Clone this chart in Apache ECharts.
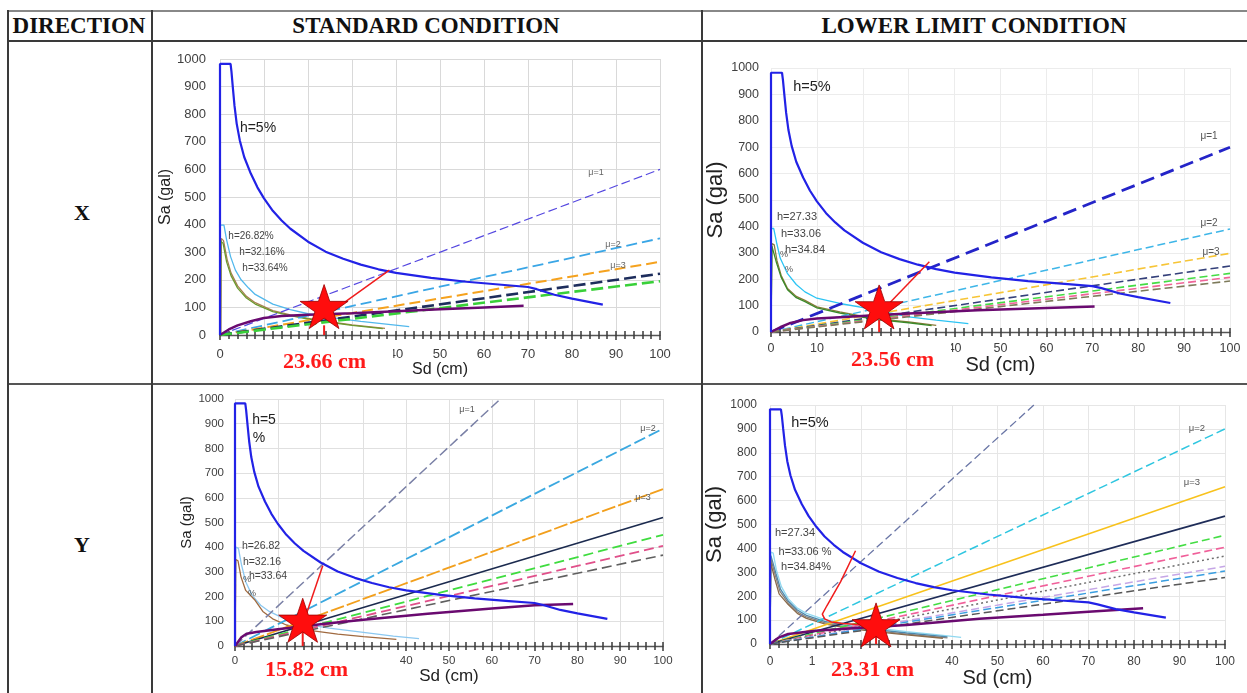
<!DOCTYPE html>
<html>
<head>
<meta charset="utf-8">
<title>Capacity spectrum method - X / Y direction</title>
<script src="https://cdn.jsdelivr.net/npm/echarts@6/dist/echarts.min.js"></script>
<style>
  html, body { margin: 0; padding: 0; background: #fff; }
  body { width: 1247px; height: 693px; position: relative; overflow: hidden; font-family: 'Liberation Serif', serif; }
  .hl, .vl { position: absolute; background: #3a3a3a; }
  .hl { left: 7px; right: 0; height: 2px; }
  .vl { top: 10px; bottom: 0; width: 2px; }
  .head, .dir { position: absolute; font-weight: bold; color: #111; white-space: nowrap; transform: translate(-50%, -50%); }
  .head { font-size: 23px; top: 26px; }
  .dir { font-size: 22px; }
  #chart { position: absolute; left: 0; top: 0; width: 1247px; height: 693px; }
</style>
</head>
<body>
<!-- table frame -->
<div class="hl" style="top:10px;background:#888"></div>
<div class="hl" style="top:40px"></div>
<div class="hl" style="top:383px;background:#555"></div>
<div class="vl" style="left:7px"></div>
<div class="vl" style="left:151px"></div>
<div class="vl" style="left:701px"></div>
<div class="head" style="left:79px">DIRECTION</div>
<div class="head" style="left:426px">STANDARD CONDITION</div>
<div class="head" style="left:974px">LOWER LIMIT CONDITION</div>
<div class="dir" style="left:82px;top:213px">X</div>
<div class="dir" style="left:82px;top:545px">Y</div>
<div id="chart"></div>
<script>
// ---- data: [Sd (cm), Sa (gal)] ----
// h=5% demand spectrum, same in all panels
const demand5 = [[0,0],[0,982],[2.4,982],[2.6,955],[2.9,900],[3.3,830],[3.8,765],[4.5,705],[5.5,645],[7,585],[8.5,535],[10,495],[12,450],[14,415],[16,385],[20,338],[24,302],[28,276],[32,255],[36,238],[40,225],[48,207],[56,193],[64,182],[70,174],[72,166],[76,146],[80,132],[87,110]];

// standard condition, X
const stdXh2682 = [[0,0],[0,398],[0.9,398],[1.5,345],[2.4,284],[3.5,235],[4.8,200],[6.5,170],[8,147],[12,112],[16,92],[20,77],[24,66],[32,49],[43,30]];
const stdXh3216 = [[0.2,0],[0.3,350],[0.8,342],[1.6,275],[2.5,225],[4,178],[6,140],[8,117],[12,88],[16,73],[20,60],[24,50],[30,37],[37.5,24]];
const stdXh3364 = [[0.1,0],[0.2,340],[0.7,332],[1.5,265],[2.5,215],[4,170],[6,134],[8,112],[12,85],[16,70],[20,58],[24,48],[30,35],[37,23]];
const stdXStub = [[0,0],[0,215]];
const stdXCapacity = [[0,0],[2,20],[4,35],[7,50],[10,62],[14,69],[20,73],[30,79],[40,86],[50,93],[60,100],[69,106]];
const stdXMu = [[100,600],[100,350],[100,265],[100,222],[100,195]];
const stdXRed = [[26,92],[38.5,235]];
const stdXTick = [[23.66,0],[23.66,35]];
const stdXPoint = [23.66,103];

// lower limit condition, X
const lowXh2733 = [[0,0],[0,392],[0.6,392],[1.2,340],[2,280],[3.6,221],[5.5,180],[7.4,152],[10,128],[15,108],[22.6,85],[30,57],[36,45],[43,32]];
const lowXh3306 = [[0,0],[0.2,335],[0.7,330],[1.3,270],[2.2,215],[3.6,165],[5.5,135],[7.4,120],[10,95],[15,76],[22.6,51],[30,38],[36,25]];
const lowXh3484 = [[0,0],[0.1,150],[0.2,325],[0.6,320],[1.2,262],[2.2,208],[3.6,160],[5.5,130],[7.4,115],[10,91],[15,72],[22.6,48],[30,35],[35,24]];
const lowXCapacity = [[0,0],[2,18],[4,33],[7,45],[10,51],[15,56],[22.6,63],[30,70],[45,82],[60,91],[70.5,97]];
const lowXMu = [[100,700],[100,390],[100,298],[100,250],[100,222],[100,207],[100,193]];
const lowXRed = [[25,95],[34.5,266]];
const lowXTick = [[23.56,0],[23.56,45]];
const lowXPoint = [23.56,95];

// standard condition, Y
const stdYh2682 = [[0,0],[0.2,400],[0.8,395],[1.5,330],[2.5,260],[4,205],[6,165],[8,140],[11,115],[16,90],[22,72],[30,55],[37,40],[43,30]];
const stdYh3216 = [[0,0],[0.2,350],[0.7,345],[1.4,280],[2.5,225],[4.7,185],[6.5,140],[8.8,110],[12,85],[17,64],[24,48],[30,38],[37.7,27]];
const stdYStub = [[0.1,0],[0.1,250]];
const stdYCapacity = [[0,0],[1.5,35],[2.7,50],[5,57],[10,68],[15,78],[21,90],[30,106],[45,131],[60,152],[70,165],[79,170]];
const stdYMu = [[62,1000],[100,880],[100,635],[100,520],[100,450],[100,405],[100,368]];
const stdYRed = [[16.2,105],[20.5,325]];
const stdYTick = [[15.82,0],[15.82,110]];
const stdYPoint = [15.82,104];

// lower limit condition, Y
const lowYh2734 = [[0,0],[0.2,385],[0.7,380],[1.4,310],[2.5,240],[4,190],[6,150],[8,128],[12,102],[16,87],[22,70],[30,52],[36,40],[42,28]];
const lowYh3306 = [[0,0],[0.2,370],[0.6,365],[1.3,295],[2.3,230],[4,180],[6,142],[8,120],[12,95],[16,80],[22,63],[30,46],[39,30]];
const lowYh3484 = [[0,0],[0.2,355],[0.6,350],[1.2,285],[2.2,220],[4,172],[6,135],[8,113],[12,89],[16,74],[22,58],[30,41],[39,26]];
const lowYh36 = [[0,0],[0.15,340],[0.5,335],[1.1,270],[2,210],[4,165],[6,128],[8,107],[12,84],[16,70],[22,54],[30,38],[38,24]];
const lowYStub = [[0,0],[0,165]];
const lowYCapacity = [[0,0],[2,28],[4,42],[10,55],[20,68],[30,80],[46,106],[60,122],[70,135],[82,150]];
const lowYMu = [[58,1000],[100,900],[100,658],[100,535],[100,455],[100,405],[100,368],[100,325],[100,305],[100,278]];
const lowYRed = [[18.8,390],[15.5,260],[12.5,160],[11.5,125],[12,105],[13.5,92],[16,86],[21,80]];
const lowYTick = [[23.31,0],[23.31,40]];
const lowYPoint = [23.31,80];

const resultLabels = ['23.66 cm', '23.56 cm', '15.82 cm', '23.31 cm'];

// ---- layout / style ----
const layout = [
  {left:220, top:59, width:440, height:276, font:13, xMargin:13, yMargin:14, xName:16, xGap:27, yName:16, yGap:39, split:'#d9d9d9'},
  {left:771, top:68, width:459, height:264, font:12.5, xMargin:10, yMargin:12, xName:20, xGap:23, yName:22, yGap:39, split:'#ececec'},
  {left:235, top:399, width:428, height:247, font:11.5, xMargin:9, yMargin:11, xName:17, xGap:22, yName:15, yGap:40, split:'#e0e0e0'},
  {left:770, top:405, width:455, height:239, font:12, xMargin:12, yMargin:13, xName:20, xGap:24, yName:22, yGap:38, split:'#e6e6e6'}
];

// [color, width, dash]
const muStyles = [
  [['#5548e0',1.2,[9,4]], ['#3aa6e6',1.8,[11,5]], ['#f5a21e',2,[11,5]], ['#1d2d5c',2.6,[12,5]], ['#39d039',2.6,[12,5]]],
  [['#2424c8',2.8,[14,7]], ['#3eb6e8',1.5,[8,4]], ['#f7c536',1.6,[8,4]], ['#34407a',1.6,[8,4]], ['#44dc44',1.6,[8,4]], ['#ef6598',1.6,[8,4]], ['#7d7a5a',1.6,[8,4]]],
  [['#7a80a6',1.5,[10,4]], ['#3aa8e0',1.8,[12,4]], ['#f29f1c',1.8,[14,3]], ['#1b2a4e',1.6,'solid'], ['#3fdc3f',1.8,[10,5]], ['#e0508a',1.8,[10,5]], ['#5f5f5f',1.6,[10,5]]],
  [['#6a76a6',1.3,[8,4]], ['#2fc6e0',1.5,[9,4]], ['#f8c21c',1.6,'solid'], ['#1e2c58',1.6,'solid'], ['#44dd44',1.6,[8,4]], ['#f0609a',1.6,[8,4]], ['#6e6e6e',1.5,[2,3]], ['#c5a6e6',1.5,[8,4]], ['#3a9ee0',1.5,[8,4]], ['#575757',1.5,[8,4]]]
];

const panels = [
  {reduced:[[stdXh2682,'#52b8ec'],[stdXh3216,'#a88050'],[stdXh3364,'#6b9a2f'],[stdXStub,'#d23c3c']], mu:stdXMu, cap:stdXCapacity, red:stdXRed, tick:stdXTick, point:stdXPoint},
  {reduced:[[lowXh2733,'#2cc4f4'],[lowXh3306,'#8a7a3a'],[lowXh3484,'#3a8a2a']], mu:lowXMu, cap:lowXCapacity, red:lowXRed, tick:lowXTick, point:lowXPoint},
  {reduced:[[stdYh2682,'#8cc8f0'],[stdYh3216,'#a06a40'],[stdYStub,'#c03030']], mu:stdYMu, cap:stdYCapacity, red:stdYRed, tick:stdYTick, point:stdYPoint},
  {reduced:[[lowYh2734,'#90d8f0'],[lowYh3306,'#4a8ab0'],[lowYh3484,'#808080'],[lowYh36,'#8a6a4a'],[lowYStub,'#c03030']], mu:lowYMu, cap:lowYCapacity, red:lowYRed, tick:lowYTick, point:lowYPoint}
];

// red result text boxes (white background hides the axis labels under them)
const resultBoxes = [
  {left:225, top:344, padding:[6,27,2,58]},
  {left:845, top:340, padding:[8,17,2,6]},
  {left:265, top:650, padding:[8,24,2,0]},
  {left:816, top:650, padding:[8,20,2,15]}
];

// [text, x, y, size, color]
const notes = [
  ['h=5%',258,128,14,'#222'], ['h=26.82%',251,236,10,'#444'], ['h=32.16%',262,252,10,'#444'], ['h=33.64%',265,268,10,'#444'],
  ['μ=1',596,173,9,'#666'], ['μ=2',613,245,9,'#666'], ['μ=3',618,266,9,'#666'],
  ['h=5%',812,87,14.5,'#222'], ['h=27.33',797,217,11,'#444'], ['h=33.06',801,234,11,'#444'], ['h=34.84',805,250,11,'#444'],
  ['%',784,255,9,'#555'], ['%',789,270,9,'#555'],
  ['μ=1',1209,136,10,'#555'], ['μ=2',1209,223,10,'#555'], ['μ=3',1211,252,10,'#555'],
  ['h=5',264,420,14,'#222'], ['%',259,438,14,'#222'], ['h=26.82',261,546,10.5,'#444'], ['h=32.16',262,562,10.5,'#444'], ['h=33.64',268,576,10.5,'#444'],
  ['%',247,580,9,'#555'], ['%',252,594,9,'#555'],
  ['μ=1',467,410,9,'#555'], ['μ=2',648,429,9,'#555'], ['μ=3',643,498,9,'#555'],
  ['h=5%',810,423,14.5,'#222'], ['h=27.34',795,533,11,'#444'], ['h=33.06 %',805,552,11,'#444'], ['h=34.84%',806,567,11,'#444'],
  ['μ=2',1197,428,9.5,'#555'], ['μ=3',1192,482,9.5,'#555']
];

const starPath = 'path://M50 0L61.2 34.5L97.6 34.5L68.2 55.9L79.4 90.5L50 69.1L20.6 90.5L31.8 55.9L2.4 34.5L38.8 34.5Z';
const sans = 'Liberation Sans';
const tickStyle = { color: '#3a3a3a', width: 1.5 };

function line (i, data, color, width, type, z) {
  return {
    type: 'line', xAxisIndex: i * 2, yAxisIndex: i, data: data,
    symbol: 'none', silent: true, clip: true, z: z || 2,
    lineStyle: { color: color, width: width, type: type || 'solid' }
  };
}

const grid = [], xAxis = [], yAxis = [], series = [];
layout.forEach(function (g, i) {
  grid.push({ left: g.left, top: g.top, width: g.width, height: g.height });
  const lab = { fontSize: g.font, color: '#404040', fontFamily: sans, formatter: function (v) { return String(v); } };
  xAxis.push({
    gridIndex: i, type: 'value', min: 0, max: 100, interval: 10, position: 'bottom',
    axisLine: { show: true, lineStyle: { color: '#555', width: 1.3 } },
    axisTick: { show: true, length: 5, lineStyle: tickStyle },
    minorTick: { show: true, splitNumber: 5, length: 4, lineStyle: tickStyle },
    axisLabel: Object.assign({ margin: g.xMargin }, lab),
    splitLine: { show: true, lineStyle: { color: g.split, width: 1 } },
    name: 'Sd (cm)', nameLocation: 'middle', nameGap: g.xGap,
    nameTextStyle: { fontSize: g.xName, color: '#222', fontFamily: sans }
  });
  // second axis only to draw the ticks above the line too
  xAxis.push({
    gridIndex: i, type: 'value', min: 0, max: 100, interval: 10, position: 'bottom',
    axisLine: { show: false },
    axisTick: { show: true, inside: true, length: 4, lineStyle: tickStyle },
    minorTick: { show: true, splitNumber: 5, length: 4, lineStyle: tickStyle },
    axisLabel: { show: false }, splitLine: { show: false }
  });
  yAxis.push({
    gridIndex: i, type: 'value', min: 0, max: 1000, interval: 100,
    axisLine: { show: false }, axisTick: { show: false },
    axisLabel: Object.assign({ margin: g.yMargin }, lab),
    splitLine: { show: true, lineStyle: { color: g.split, width: 1 } },
    name: 'Sa (gal)', nameLocation: 'middle', nameGap: g.yGap,
    nameTextStyle: { fontSize: g.yName, color: '#222', fontFamily: sans }
  });

  const p = panels[i];
  p.reduced.forEach(function (r) { series.push(line(i, r[0], r[1], 1.3)); });
  p.mu.forEach(function (end, k) {
    const s = muStyles[i][k];
    series.push(line(i, [[0, 0], end], s[0], s[1], s[2], 3));
  });
  series.push(line(i, p.cap, '#6a0a70', 2.5, 'solid', 4));
  series.push(line(i, demand5, '#2222e6', 2.2, 'solid', 5));
  series.push(line(i, p.red, '#f01c1c', 1.5, 'solid', 6));
  series.push(line(i, p.tick, '#f01c1c', 2, 'solid', 6));
  series.push({
    type: 'scatter', xAxisIndex: i * 2, yAxisIndex: i, data: [p.point],
    symbol: starPath, symbolSize: [48, 44], silent: true, z: 8,
    itemStyle: { color: '#ff0d0d', opacity: 1, borderColor: '#9a0000', borderWidth: 0.8 }
  });
});

const title = resultLabels.map(function (t, i) {
  const b = resultBoxes[i];
  return {
    text: t, left: b.left, top: b.top, padding: b.padding, backgroundColor: '#fff',
    textStyle: { color: '#ff1a1a', fontSize: 22, fontWeight: 'bold', fontFamily: 'Liberation Serif', lineHeight: 24 }
  };
});

const graphic = notes.map(function (n) {
  return {
    type: 'text', x: n[1], y: n[2], z: 100, silent: true,
    style: { text: n[0], fontSize: n[3], fill: n[4], align: 'center', verticalAlign: 'middle', fontFamily: sans }
  };
});

const chart = echarts.init(document.getElementById('chart'));
chart.setOption({
  animation: false,
  backgroundColor: 'transparent',
  title: title,
  grid: grid,
  xAxis: xAxis,
  yAxis: yAxis,
  series: series,
  graphic: graphic
});
</script>
</body>
</html>
